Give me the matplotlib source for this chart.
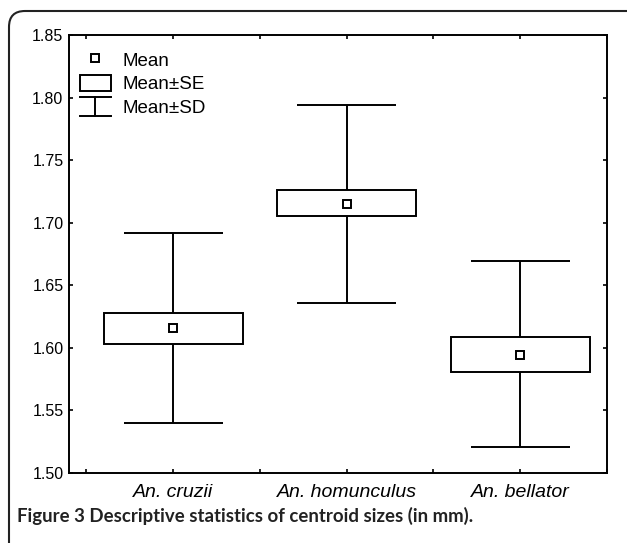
import numpy as np
import matplotlib.pyplot as plt
from matplotlib.patches import Rectangle, FancyBboxPatch, Patch
from matplotlib.lines import Line2D
from matplotlib.legend_handler import HandlerBase
from matplotlib.transforms import IdentityTransform

plt.rcParams['font.family'] = ['Liberation Sans', 'DejaVu Sans']

# Data
species = ['An. cruzii', 'An. homunculus', 'An. bellator']
means = [1.616, 1.715, 1.594]
se_low = [1.603, 1.705, 1.581]
se_high = [1.628, 1.726, 1.609]
sd_low = [1.540, 1.636, 1.521]
sd_high = [1.692, 1.794, 1.669]
yticks = [1.50, 1.55, 1.60, 1.65, 1.70, 1.75, 1.80, 1.85]

box_half = 0.40
cap_half = 0.285
lw = 1.4

fig = plt.figure(figsize=(6.27, 5.43), dpi=100)
ax = fig.add_axes([0.110, 0.129, 0.858, 0.8065])

x = np.arange(1, len(species) + 1)
# whiskers (mean +- SD)
ax.vlines(x, sd_low, se_low, color='black', lw=lw)
ax.vlines(x, se_high, sd_high, color='black', lw=lw)
ax.hlines(sd_low, x - cap_half, x + cap_half, color='black', lw=lw)
ax.hlines(sd_high, x - cap_half, x + cap_half, color='black', lw=lw)
# boxes (mean +- SE)
for xi, lo, hi in zip(x, se_low, se_high):
    ax.add_patch(Rectangle((xi - box_half, lo), 2 * box_half, hi - lo,
                           facecolor='white', edgecolor='black', lw=lw, zorder=2))
ax.plot(x, means, ls='none', marker='s', ms=5.5, mfc='white', mec='black', mew=1.4, zorder=3)

ax.set_xlim(0.4, 3.5)
ax.set_ylim(1.50, 1.85)
ax.set_yticks(yticks)
ax.set_yticklabels([f'{v:.2f}' for v in yticks], fontsize=11.5)
xt = np.arange(0.5, 3.51, 0.5)
xlabels = []
for v in xt:
    xlabels.append(species[int(v) - 1] if v == int(v) else '')
ax.set_xticks(xt)
ax.set_xticklabels(xlabels, fontsize=14, style='italic')
ax.tick_params(which='major', direction='in', length=3, width=1.2,
               top=True, right=True)
ax.tick_params(axis='x', pad=8)
ax.tick_params(axis='y', pad=4)
for s in ax.spines.values():
    s.set_linewidth(1.4)


class SDHandler(HandlerBase):
    def create_artists(self, legend, orig_handle, xdescent, ydescent,
                       width, height, fontsize, trans):
        cx = width / 2 - xdescent
        y0 = -ydescent - 0.1 * height
        y1 = -ydescent + 1.05 * height
        arts = [Line2D([cx, cx], [y0, y1]),
                Line2D([-xdescent, width - xdescent], [y0, y0]),
                Line2D([-xdescent, width - xdescent], [y1, y1])]
        for a in arts:
            a.set_color('black')
            a.set_linewidth(lw)
            a.set_transform(trans)
        return arts


class SDKey:
    pass


h_mean = Line2D([], [], ls='none', marker='s', ms=5.5, mfc='white', mec='black', mew=1.4)
h_se = Patch(facecolor='white', edgecolor='black', lw=lw)
h_sd = SDKey()
ax.legend([h_mean, h_se, h_sd], ['Mean', 'Mean±SE', 'Mean±SD'],
          handler_map={SDKey: SDHandler()}, loc='upper left', frameon=False,
          fontsize=13.5, handlelength=1.65, handleheight=1.0, handletextpad=0.6,
          labelspacing=0.25, borderaxespad=0.0, borderpad=0.0,
          bbox_to_anchor=(11 / 538, 1 - 16 / 438))

# outer rounded frame
fig.patches.append(FancyBboxPatch((9, -30), 700, 532 + 30,
                                  boxstyle='round,pad=0,rounding_size=16',
                                  transform=IdentityTransform(), fill=False,
                                  edgecolor='#222222', lw=1.5, figure=fig))

fig.text(17 / 627, 1 - 516 / 543, 'Figure 3 Descriptive statistics of centroid sizes (in mm).',
         fontsize=13.4, fontweight='bold', family='Lato', va='center',
         ha='left', color='#222222')

fig.savefig('out.png', dpi=100)
